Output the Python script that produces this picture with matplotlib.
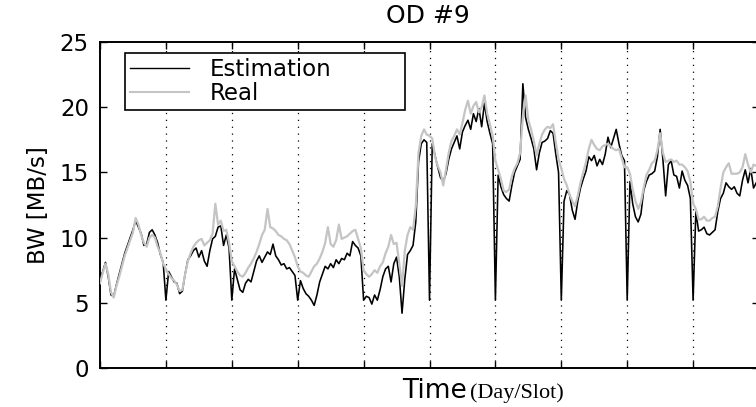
import numpy as np
import matplotlib
matplotlib.use("Agg")
import matplotlib.pyplot as plt
from matplotlib.lines import Line2D

# 24 slots per day, 10 days; the estimator restarts at the first slot of each day
SLOTS_PER_DAY = 24
N_DAYS = 10

estimation = [
    6.9, 7.4, 8.1, 7.0, 5.6, 5.5, 6.4, 7.2, 8.0, 8.8, 9.4, 10.0, 10.6, 11.3, 10.8, 10.3, 9.4, 9.5, 10.4, 10.6, 10.2, 9.6, 8.7, 8.1,
    5.2, 7.4, 7.0, 6.6, 6.5, 5.7, 5.9, 7.2, 8.3, 8.6, 9.0, 9.2, 8.5, 9.0, 8.2, 7.8, 9.0, 9.9, 10.1, 10.8, 10.9, 9.4, 10.2, 9.2,
    5.2, 7.6, 6.8, 6.0, 5.8, 6.5, 6.8, 6.6, 7.4, 8.2, 8.6, 8.1, 8.5, 8.9, 8.7, 9.5, 8.6, 8.3, 7.9, 8.0, 7.6, 7.7, 7.4, 7.1,
    5.2, 6.7, 6.1, 5.7, 5.5, 5.2, 4.8, 5.6, 6.6, 7.2, 7.8, 7.6, 8.0, 7.7, 8.3, 8.0, 8.4, 8.3, 8.8, 8.6, 9.7, 9.4, 9.2, 8.6,
    5.2, 5.5, 5.4, 4.9, 5.6, 5.2, 6.0, 7.0, 7.6, 7.8, 6.6, 8.0, 8.5, 7.0, 4.2, 6.8, 8.7, 9.0, 9.4, 11.2, 15.8, 17.2, 17.5, 17.3,
    5.2, 17.2, 16.3, 15.4, 14.6, 14.3, 14.9, 16.0, 16.8, 17.3, 17.8, 16.8, 18.1, 18.6, 19.0, 18.3, 19.5, 18.9, 19.9, 18.5, 20.3, 18.9, 18.0, 17.2,
    5.2, 14.8, 13.9, 13.3, 13.0, 12.8, 14.0, 15.0, 15.5, 16.0, 21.8, 19.2, 18.3, 17.6, 16.8, 15.2, 16.5, 17.3, 17.4, 17.6, 18.2, 18.0, 16.4, 15.0,
    5.2, 12.8, 13.6, 13.3, 12.1, 11.4, 12.8, 13.8, 14.5, 15.1, 16.2, 15.9, 16.3, 15.5, 16.0, 15.6, 16.4, 17.7, 16.9, 17.6, 18.3, 17.2, 16.3, 15.9,
    5.2, 14.3, 12.6, 11.6, 11.2, 11.8, 13.6, 14.3, 14.8, 14.9, 15.1, 16.2, 18.3, 16.0, 13.2, 15.6, 15.9, 14.8, 14.7, 13.8, 15.1, 14.4, 14.0, 13.0,
    5.2, 12.0, 10.5, 10.6, 10.8, 10.3, 10.2, 10.4, 10.6, 12.0, 13.0, 13.4, 14.2, 13.9, 13.7, 13.9, 13.4, 13.2, 14.4, 15.2, 14.2, 15.3, 13.8, 14.2,
]

real = [
    6.5, 7.3, 8.0, 7.2, 5.8, 5.4, 6.3, 7.0, 7.8, 8.6, 9.2, 9.8, 10.4, 11.5, 11.0, 10.2, 9.6, 9.3, 10.0, 10.2, 10.0, 9.3, 8.8, 8.0,
    7.6, 7.2, 6.9, 6.7, 6.4, 5.9, 6.0, 7.2, 8.2, 8.8, 9.3, 9.6, 9.8, 9.9, 9.4, 9.6, 9.8, 10.3, 12.6, 11.0, 11.3, 10.5, 10.6, 9.6,
    8.2, 7.8, 7.4, 7.1, 7.0, 7.3, 7.7, 8.0, 8.4, 8.9, 9.5, 10.2, 10.6, 12.2, 10.8, 10.7, 10.5, 10.2, 10.1, 9.9, 9.8, 9.5, 9.0, 8.5,
    7.8, 7.4, 7.3, 7.1, 7.0, 7.4, 7.8, 8.0, 8.4, 8.9, 9.6, 10.8, 9.5, 9.3, 9.8, 11.0, 9.9, 10.0, 10.1, 10.3, 10.5, 10.6, 9.9, 9.2,
    7.5, 7.2, 7.0, 7.2, 7.5, 7.3, 7.8, 8.1, 8.8, 9.3, 10.2, 9.5, 9.6, 8.0, 6.3, 9.0, 10.2, 10.8, 10.6, 12.4, 16.5, 17.8, 18.3, 17.9,
    17.8, 17.6, 16.2, 15.5, 15.0, 14.0, 15.2, 16.5, 17.4, 17.8, 18.3, 17.9, 18.8, 19.8, 20.5, 19.5, 20.1, 20.4, 19.6, 20.0, 20.9, 19.5, 18.7, 17.8,
    15.9, 15.2, 14.5, 13.6, 13.5, 13.7, 14.7, 15.3, 15.7, 16.5, 19.3, 20.9, 19.0, 18.3, 17.4, 16.3, 17.2, 17.9, 18.3, 18.5, 18.4, 18.7, 17.3, 16.0,
    15.3, 14.5, 14.0, 13.3, 12.8, 12.4, 13.2, 14.2, 15.0, 15.8, 16.8, 17.5, 17.1, 16.8, 16.7, 17.0, 17.1, 17.2, 17.0, 16.8, 16.7, 16.8, 16.1, 15.4,
    15.4, 14.9, 13.7, 12.8, 12.2, 12.7, 13.8, 14.8, 15.2, 15.7, 15.9, 16.7, 18.0, 16.5, 15.8, 15.9, 16.0, 15.8, 15.9, 15.6, 15.6, 15.4, 15.1, 14.3,
    12.6, 12.2, 11.4, 11.4, 11.6, 11.3, 11.3, 11.5, 11.6, 12.4, 13.8, 15.0, 15.4, 15.7, 14.9, 14.9, 14.9, 15.0, 15.4, 16.4, 15.6, 15.0, 15.6, 15.5,
]

y_ticks = [0, 5, 10, 15, 20, 25]
day_ticks = list(range(N_DAYS + 1))

t = np.arange(len(estimation)) / SLOTS_PER_DAY

W, H = 756, 407
fig = plt.figure(figsize=(W / 100, H / 100), dpi=100)
ax = fig.add_axes([100 / W, 1 - 368 / H, 659 / W, 326 / H])

# day separators
for d in day_ticks[1:-1]:
    ax.axvline(d, color="black", lw=0.9, ls=(0, (1, 4.5)), zorder=1)

ax.plot(t, estimation, color="black", lw=1.15, zorder=2)
ax.plot(t, real, color="#c4c4c4", lw=1.6, zorder=3)

ax.set_xlim(0, N_DAYS)
ax.set_ylim(0, 25)
ax.set_xticks(day_ticks)
ax.set_xticklabels([])
ax.set_yticks(y_ticks)
ax.tick_params(axis="both", direction="in", length=5, width=1, color="black",
               top=True, right=True, labelsize=16.5, pad=8)
for sp in ax.spines.values():
    sp.set_linewidth(1.4)

ax.set_ylabel("BW [MB/s]", fontsize=16.5, labelpad=7)

handles = [Line2D([], [], color="black", lw=1.0),
           Line2D([], [], color="#c4c4c4", lw=1.5)]
leg = ax.legend(handles, ["Estimation", "Real"], loc="upper left",
                bbox_to_anchor=(25 / 659, 1 - 11 / 326, 280 / 659, 0.0),
                mode="expand", fontsize=16.5, handlelength=2.6, handletextpad=0.9,
                labelspacing=0.08, borderpad=0.2, borderaxespad=0,
                fancybox=False, framealpha=1, edgecolor="black")
leg.get_frame().set_linewidth(1.2)
leg.set_zorder(5)

fig.text(428 / W, 1 - 16 / H, "OD #9", ha="center", va="center", fontsize=18)
fig.text(467 / W, 1 - 398 / H, "Time", ha="right", va="baseline", fontsize=19)
fig.text(470 / W, 1 - 398 / H, "(Day/Slot)", ha="left", va="baseline",
         fontsize=16, family="Liberation Serif")

fig.savefig("out.png", dpi=100)
